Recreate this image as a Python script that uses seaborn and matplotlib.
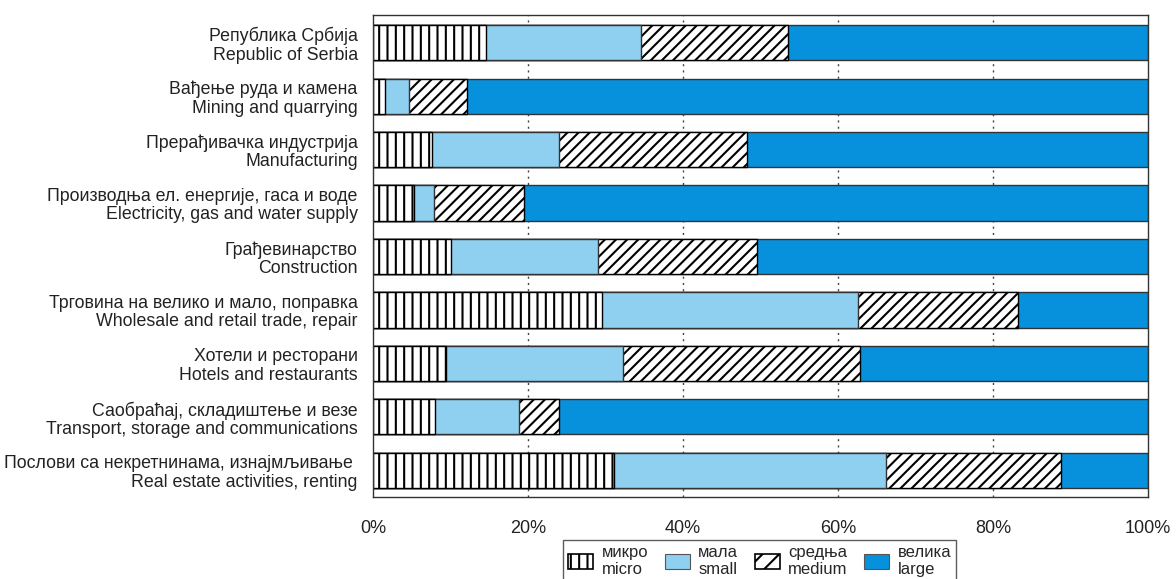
import numpy as np
import pandas as pd
import matplotlib
matplotlib.use('Agg')
import matplotlib.pyplot as plt
import matplotlib.patches as mpatches
import seaborn as sns

# ------------------------------------------------------------------
# podaci (udeo u %, po velicini preduzeca)
# ------------------------------------------------------------------
sektori = [
    'Република Србија\nRepublic of Serbia',
    'Вађење руда и камена\nMining and quarrying',
    'Прерађивачка индустрија\nManufacturing',
    'Производња ел. енергије, гаса и воде\nElectricity, gas and water supply',
    'Грађевинарство\nConstruction',
    'Трговина на велико и мало, поправка\nWholesale and retail trade, repair',
    'Хотели и ресторани\nHotels and restaurants',
    'Саобраћај, складиштење и везе\nTransport, storage and communications',
    'Послови са некретнинама, изнајмљивање \nReal estate activities, renting',
]
mikro   = [14.6, 1.5, 7.6, 5.3, 10.1, 29.6, 9.4, 8.0, 31.1]
mala    = [20.0, 3.1, 16.4, 2.6, 18.9, 33.0, 22.9, 10.8, 35.1]
srednja = [18.9, 7.5, 24.3, 11.6, 20.5, 20.6, 30.5, 5.2, 22.6]
velika  = [46.5, 87.9, 51.7, 80.5, 50.5, 16.8, 37.2, 76.0, 11.2]

legenda = ['микро\nmicro', 'мала\nsmall', 'средња\nmedium', 'велика\nlarge']
x_ticks = [0, 20, 40, 60, 80, 100]

df = pd.DataFrame({'sektor': sektori, 'mikro': mikro, 'mala': mala,
                   'srednja': srednja, 'velika': velika})
df['c1'] = df['mikro']
df['c2'] = df['c1'] + df['mala']
df['c3'] = df['c2'] + df['srednja']
df['c4'] = df['c3'] + df['velika']

# ------------------------------------------------------------------
# stil
# ------------------------------------------------------------------
sns.set_style('white')
plt.rcParams['font.family'] = ['Liberation Sans', 'DejaVu Sans']
plt.rcParams['hatch.linewidth'] = 1.5
plt.rcParams['hatch.color'] = 'black'

boja_mala = '#8fcff0'
boja_velika = '#0791dc'
ivica = '#333333'

fig = plt.figure(figsize=(11.76, 5.79), dpi=100)
ax = fig.add_axes([373 / 1176, 1 - 497 / 579, 775 / 1176, 482 / 579])

for g in [20, 40, 60, 80]:
    ax.axvline(g, color='#444444', linestyle=(0, (1.5, 3)), linewidth=1.0, zorder=0)

# stacked bars: nacrtaj kumulative od najvece ka najmanjoj
slojevi = [
    ('c4', boja_velika, None, ivica),
    ('c3', 'white', '///', 'black'),
    ('c2', boja_mala, None, ivica),
    ('c1', 'white', '||', 'black'),
]
for kol, boja, hatch, ec in slojevi:
    sns.barplot(data=df, x=kol, y='sektor', orient='h', color=boja,
                width=0.66, saturation=1, edgecolor=ec, linewidth=1.0,
                hatch=hatch, ax=ax, zorder=2)

ax.set_xlim(0, 100)
ax.set_ylim(8.5, -0.52)
ax.set_xticks(x_ticks)
ax.set_xticklabels([f'{t}%' for t in x_ticks], fontsize=13, color='#222222')
ax.set_xlabel('')
ax.set_ylabel('')
ax.tick_params(axis='y', length=0, pad=11, labelsize=12.8, labelcolor='#222222')
ax.tick_params(axis='x', direction='inout', length=19, width=1.0, color='#333333', pad=7)
for lbl in ax.get_yticklabels():
    lbl.set_linespacing(1.1)
for s in ax.spines.values():
    s.set_color('#333333')
    s.set_linewidth(1.0)

# legenda
rucke = [
    mpatches.Patch(facecolor='white', edgecolor='black', hatch='||', linewidth=1.2),
    mpatches.Patch(facecolor=boja_mala, edgecolor='#555555', linewidth=0.8),
    mpatches.Patch(facecolor='white', edgecolor='black', hatch='//', linewidth=1.2),
    mpatches.Patch(facecolor=boja_velika, edgecolor='#555555', linewidth=0.8),
]
leg = fig.legend(rucke, legenda, loc='upper center', bbox_to_anchor=(0.646, 0.068),
                 ncol=4, fontsize=12, frameon=True, fancybox=False,
                 handlelength=1.5, handleheight=1.0, handletextpad=0.5,
                 columnspacing=1.0, borderpad=0.3, borderaxespad=0,
                 edgecolor='#333333')
leg.get_frame().set_linewidth(1.0)

fig.savefig('out.png', dpi=100)
